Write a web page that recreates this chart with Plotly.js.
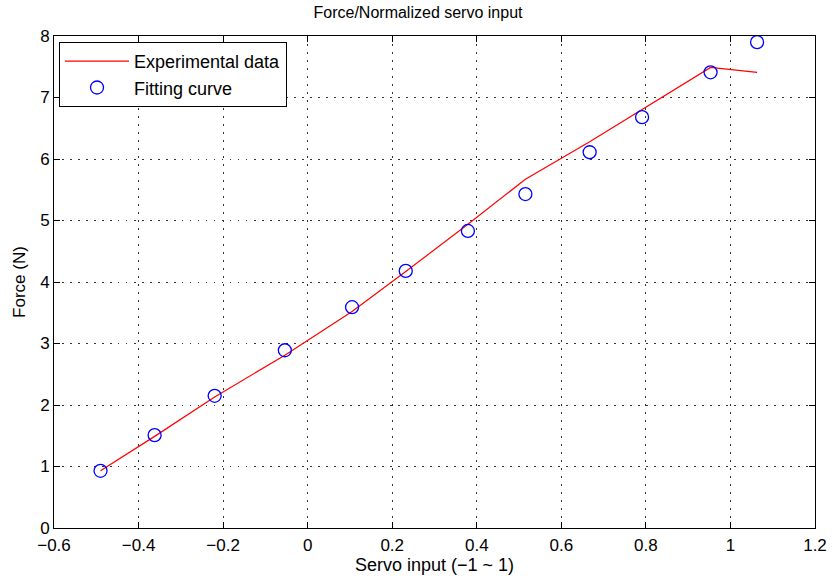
<!DOCTYPE html>
<html>
<head>
<meta charset="utf-8">
<script src="https://cdn.plot.ly/plotly-3.0.1.min.js"></script>
<style>
  html, body { margin: 0; padding: 0; background: #fff; }
  #chart { width: 836px; height: 582px; }
</style>
</head>
<body>
<div id="chart"></div>
<script>
// Normalized servo input (-1 ~ 1) and measured / fitted force in newtons
const servoInput = [-0.490, -0.362, -0.220, -0.054, 0.105, 0.232, 0.379, 0.515, 0.667, 0.791, 0.953, 1.063];
const experimentalForce = [0.93, 1.49, 2.13, 2.81, 3.52, 4.17, 4.94, 5.67, 6.28, 6.81, 7.49, 7.41];
const fittedForce = [0.93, 1.51, 2.15, 2.89, 3.59, 4.18, 4.83, 5.43, 6.11, 6.68, 7.41, 7.90];

const xTicks = [-0.6, -0.4, -0.2, 0, 0.2, 0.4, 0.6, 0.8, 1, 1.2];
const xTickText = ['\u22120.6', '\u22120.4', '\u22120.2', '0', '0.2', '0.4', '0.6', '0.8', '1', '1.2'];
const yTicks = [0, 1, 2, 3, 4, 5, 6, 7, 8];

const family = 'Liberation Sans, Arial, Helvetica, sans-serif';
const tickFont = { family: family, size: 17, color: '#000' };
const labelFont = { family: family, size: 18, color: '#000' };

const traces = [
  {
    x: servoInput,
    y: experimentalForce,
    type: 'scatter',
    mode: 'lines',
    name: 'Experimental data',
    line: { color: '#ff0000', width: 1.2 }
  },
  {
    x: servoInput,
    y: fittedForce,
    type: 'scatter',
    mode: 'markers',
    name: 'Fitting curve',
    marker: { symbol: 'circle-open', size: 13, color: '#0000ff', line: { width: 1.3, color: '#0000ff' } },
    cliponaxis: false
  }
];

const axisCommon = {
  showline: true,
  linecolor: '#000',
  linewidth: 1,
  mirror: 'ticks',
  ticks: 'inside',
  ticklen: 6,
  tickcolor: '#000',
  tickwidth: 1,
  showgrid: true,
  gridcolor: '#333',
  gridwidth: 1,
  griddash: '1.5px,6.5px',
  zeroline: false,
  tickfont: tickFont
};

const layout = {
  width: 836,
  height: 582,
  margin: { l: 54, r: 21, t: 36, b: 54 },
  paper_bgcolor: '#fff',
  plot_bgcolor: '#fff',
  font: tickFont,
  showlegend: true,
  title: {
    text: 'Force/Normalized servo input',
    font: { family: family, size: 16, color: '#000' },
    x: 0.5,
    xanchor: 'center',
    y: 0.988,
    yanchor: 'top'
  },
  xaxis: Object.assign({}, axisCommon, {
    range: [-0.6, 1.2],
    tickvals: xTicks,
    ticktext: xTickText,
    ticklabelstandoff: 2,
    title: { text: 'Servo input (\u22121 ~ 1)', font: labelFont, standoff: 1 }
  }),
  yaxis: Object.assign({}, axisCommon, {
    range: [0, 8],
    tickvals: yTicks,
    title: { text: 'Force (N)', font: { family: family, size: 17, color: '#000' }, standoff: 10 }
  }),
  legend: {
    x: 0.0066,
    y: 0.988,
    xanchor: 'left',
    yanchor: 'top',
    bgcolor: '#fff',
    bordercolor: '#000',
    borderwidth: 1,
    font: { family: family, size: 18, color: '#000' },
    itemwidth: 64
  }
};

Plotly.newPlot('chart', traces, layout, { staticPlot: true, displayModeBar: false });
</script>
</body>
</html>
